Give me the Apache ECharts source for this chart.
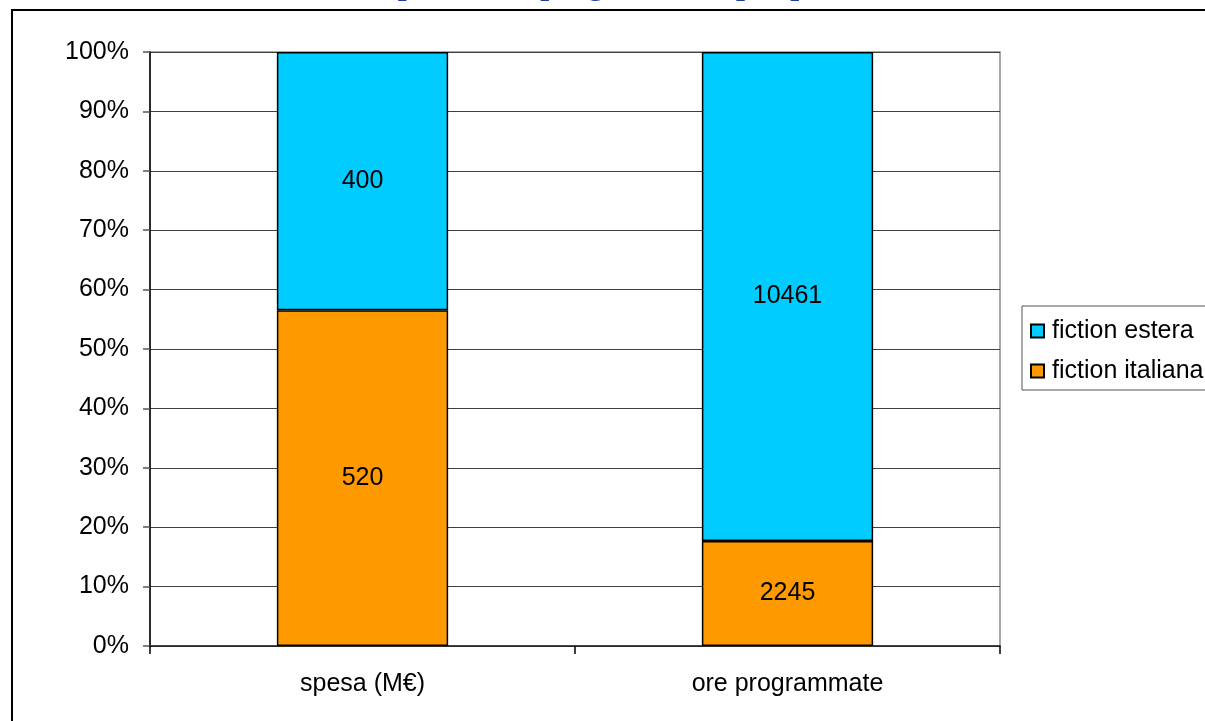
<!DOCTYPE html>
<html>
<head>
<meta charset="utf-8">
<script src="https://cdn.jsdelivr.net/npm/echarts@6/dist/echarts.min.js"></script>
<style>
html,body{margin:0;padding:0;background:#fff;}
#chart{width:1205px;height:721px;}
</style>
</head>
<body>
<div id="chart"></div>
<script>
const categories = ['spesa (M€)', 'ore programmate'];
const fictionItaliana = [520, 2245];
const fictionEstera = [400, 10461];
const yTickLabels = ['0%','10%','20%','30%','40%','50%','60%','70%','80%','90%','100%'];

const totals = categories.map((c, i) => fictionItaliana[i] + fictionEstera[i]);
const pctIt = fictionItaliana.map((v, i) => ({ value: v / totals[i] * 100, raw: v }));
const pctEs = fictionEstera.map((v, i) => ({ value: v / totals[i] * 100, raw: v }));

const FONT = "'Liberation Sans', Arial, sans-serif";
const FS = 25;
const chart = echarts.init(document.getElementById('chart'), null, { renderer: 'canvas' });

const labelCfg = {
  show: true,
  position: 'inside',
  fontFamily: FONT,
  fontSize: FS,
  color: '#000',
  formatter: p => p.data.raw
};

chart.setOption({
  animation: false,
  backgroundColor: '#fff',
  graphic: [
    {
      type: 'rect',
      shape: { x: 12, y: 10, width: 1400, height: 900 },
      style: { fill: 'none', stroke: '#000', lineWidth: 2 },
      z: 0
    },
    {
      type: 'text',
      left: 150,
      top: -30,
      style: {
        text: 'La fiction in TV: spesa e ore programmate per provenienza, 2006',
        fontFamily: "'Liberation Serif', serif",
        fontWeight: 'bold',
        fontSize: 32,
        fill: '#1F3D99'
      },
      z: 10
    }
  ],
  grid: {
    left: 150, right: 205, top: 52, bottom: 75,
    show: true, borderColor: '#8c8c8c', borderWidth: 1.5, backgroundColor: '#fff'
  },
  legend: {
    data: ['fiction estera', 'fiction italiana'],
    orient: 'vertical',
    left: 1022,
    top: 306,
    padding: [12, 20, 6, 8],
    itemWidth: 13,
    itemHeight: 13,
    itemGap: 14,
    backgroundColor: '#fff',
    borderColor: '#555',
    borderWidth: 1,
    icon: 'rect',
    textStyle: { fontFamily: FONT, fontSize: FS, color: '#000', lineHeight: 26, padding: [0, 0, 0, 3] }
  },
  xAxis: {
    type: 'category',
    data: categories,
    axisLine: { lineStyle: { color: '#222', width: 1.5 } },
    axisTick: { show: true, length: 8, lineStyle: { color: '#000', width: 1.5 } },
    axisLabel: { fontFamily: FONT, fontSize: FS, color: '#000', margin: 26 },
    splitLine: { show: false }
  },
  yAxis: {
    type: 'value',
    min: 0, max: 100, interval: 10,
    axisLine: { show: true, lineStyle: { color: '#000', width: 1.5 } },
    axisTick: { show: true, length: 7, lineStyle: { color: '#555', width: 1.5 } },
    axisLabel: {
      fontFamily: FONT, fontSize: FS, color: '#000', margin: 21,
      formatter: v => yTickLabels[Math.round(v / 10)]
    },
    splitLine: { show: true, lineStyle: { color: '#404040', width: 1 } }
  },
  series: [
    {
      name: 'fiction italiana',
      type: 'bar',
      stack: 'tot',
      barWidth: '40.3%',
      data: pctIt,
      itemStyle: { color: '#FF9900', borderColor: '#000', borderWidth: 1.5 },
      label: labelCfg
    },
    {
      name: 'fiction estera',
      type: 'bar',
      stack: 'tot',
      barWidth: '40.3%',
      data: pctEs,
      itemStyle: { color: '#00CCFF', borderColor: '#000', borderWidth: 1.5 },
      label: labelCfg
    }
  ]
});
</script>
</body>
</html>
